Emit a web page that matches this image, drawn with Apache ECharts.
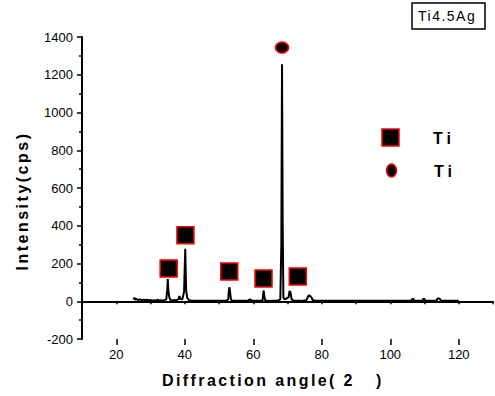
<!DOCTYPE html>
<html><head><meta charset="utf-8">
<script src="https://cdn.jsdelivr.net/npm/echarts@6/dist/echarts.min.js"></script>
<style>html,body{margin:0;padding:0;background:#fff}#c{width:495px;height:396px}</style>
</head><body><div id="c"></div>
<script>
// XRD pattern (2theta, intensity)
const twoTheta = [25.0,25.3,25.6,26.0,26.5,27.0,27.5,28.0,28.5,29.0,29.5,30.0,30.5,31.0,31.5,32.0,32.5,33.0,33.5,34.0,34.6,34.9,35.05,35.2,35.5,35.8,36.3,37.0,37.6,38.2,38.45,38.7,39.3,39.8,40.15,40.4,40.7,41.2,42.0,44.0,46.0,48.0,50.0,52.0,52.7,52.9,53.05,53.2,53.5,54.0,56.0,58.6,58.9,59.3,59.6,60.0,62.7,62.9,63.05,63.2,63.5,65.0,67.0,67.9,68.2,68.4,68.6,68.8,69.2,70.3,70.6,70.9,71.2,72.0,74.0,75.5,76.0,76.3,76.6,77.0,77.3,78.0,82.0,90.0,100.0,106.2,106.4,106.8,107.0,109.4,109.6,110.0,110.2,113.5,113.7,114.0,114.5,114.8,117.0,120.0];
const intensity = [10,18,8,12,6,10,5,9,4,8,3,7,3,6,2,8,3,5,4,6,10,60,118,60,20,8,4,6,5,12,28,12,10,50,278,60,20,6,3,2,2,2,2,2,10,60,74,55,8,2,2,2,10,8,2,2,4,35,57,30,4,2,2,10,300,1255,400,20,10,20,55,45,10,2,2,5,25,32,28,20,8,2,2,2,2,2,12,12,2,2,12,12,2,2,12,15,12,2,2,2];
// Phase markers
const squareX = [35.3, 40.2, 53.0, 63.0, 73.0];
const squareY = [174, 350, 158, 121, 131];
const circleX = [68.4];
const circleY = [1344];
const xLabelValues = [20, 40, 60, 80, 100, 120];

const lineData = twoTheta.map((x, i) => [x, intensity[i]]);
const sqData = squareX.map((x, i) => [x, squareY[i]]);
const ciData = circleX.map((x, i) => [x, circleY[i]]);

const chart = echarts.init(document.getElementById('c'), null, {renderer: 'svg'});
const font = 'Liberation Sans, Arial, sans-serif';
const bold16 = 'bold 16px Liberation Sans, Arial, sans-serif';
chart.setOption({
  animation: false,
  backgroundColor: '#fff',
  grid: {left: 82, right: 2, top: 37, bottom: 57, containLabel: false},
  xAxis: [{
    type: 'value', min: 10, max: 130, interval: 10,
    axisLine: {lineStyle: {color: '#000', width: 2}},
    axisTick: {show: true, length: 3, lineStyle: {color: '#000', width: 1.5}},
    axisLabel: {customValues: xLabelValues, color: '#000', fontFamily: font, fontSize: 13, margin: 9},
    splitLine: {show: false}
  }, {
    type: 'value', min: 10, max: 130, interval: 10, position: 'bottom',
    axisLine: {show: false},
    axisTick: {show: true, customValues: xLabelValues, length: 6, lineStyle: {color: '#000', width: 1.5}},
    axisLabel: {show: false},
    splitLine: {show: false}
  }],
  yAxis: {
    type: 'value', min: -200, max: 1400, interval: 200,
    name: 'Intensity(cps)', nameLocation: 'middle', nameGap: 52,
    nameTextStyle: {fontFamily: font, fontSize: 16, fontWeight: 'bold', color: '#000', padding: [0, 26, 0, 0]},
    axisLine: {show: true, lineStyle: {color: '#000', width: 2}},
    axisTick: {show: true, length: 5, lineStyle: {color: '#000', width: 1.5}},
    minorTick: {show: true, splitNumber: 2, length: 3, lineStyle: {color: '#000', width: 1.5}},
    axisLabel: {color: '#000', fontFamily: font, fontSize: 13, margin: 9, formatter: v => String(v)},
    splitLine: {show: false}
  },
  graphic: [
    {type: 'rect', shape: {x: 412, y: 3, width: 73, height: 26}, style: {fill: 'none', stroke: '#000', lineWidth: 1.5}},
    {type: 'text', left: 418, top: 9, style: {text: 'Ti4.5Ag', font: '14px Liberation Sans, Arial, sans-serif', fill: '#000'}},
    {type: 'text', left: 162, top: 372, style: {text: 'Diffraction angle( 2', font: bold16, fill: '#000'}},
    {type: 'text', left: 376, top: 372, style: {text: ')', font: bold16, fill: '#000'}},
    {type: 'rect', shape: {x: 382, y: 129, width: 17, height: 17}, style: {fill: '#000', stroke: '#f00', lineWidth: 1.5}},
    {type: 'text', left: 433, top: 130, style: {text: 'Ti', font: bold16, fill: '#000'}},
    {type: 'ellipse', shape: {cx: 391.5, cy: 170.5, rx: 5, ry: 6.5}, style: {fill: '#000', stroke: '#f00', lineWidth: 1.5}},
    {type: 'text', left: 434, top: 163, style: {text: 'Ti', font: bold16, fill: '#000'}}
  ],
  series: [{
    type: 'line', data: lineData, showSymbol: false, symbol: 'none',
    lineStyle: {color: '#000', width: 2}, z: 2
  }, {
    type: 'scatter', data: sqData, symbol: 'rect', symbolSize: 17,
    itemStyle: {color: '#000', borderColor: '#f00', borderWidth: 1.5, opacity: 1}, z: 3
  }, {
    type: 'scatter', data: ciData, symbol: 'circle', symbolSize: [13, 11],
    itemStyle: {color: '#000', borderColor: '#f00', borderWidth: 1.5, opacity: 1}, z: 3
  }]
});

// Emulate the wide letter spacing of the original figure's text
const spacing = {'Intensity(cps)': 2.5, 'Diffraction angle( 2': 2.4, 'Ti4.5Ag': 1.5, 'Ti': 4};
function applySpacing() {
  document.querySelectorAll('#c svg text').forEach(t => {
    const s = spacing[t.textContent];
    if (s !== undefined) t.setAttribute('letter-spacing', s);
  });
}
chart.on('finished', applySpacing);
applySpacing();
setTimeout(applySpacing, 0);
</script></body></html>
